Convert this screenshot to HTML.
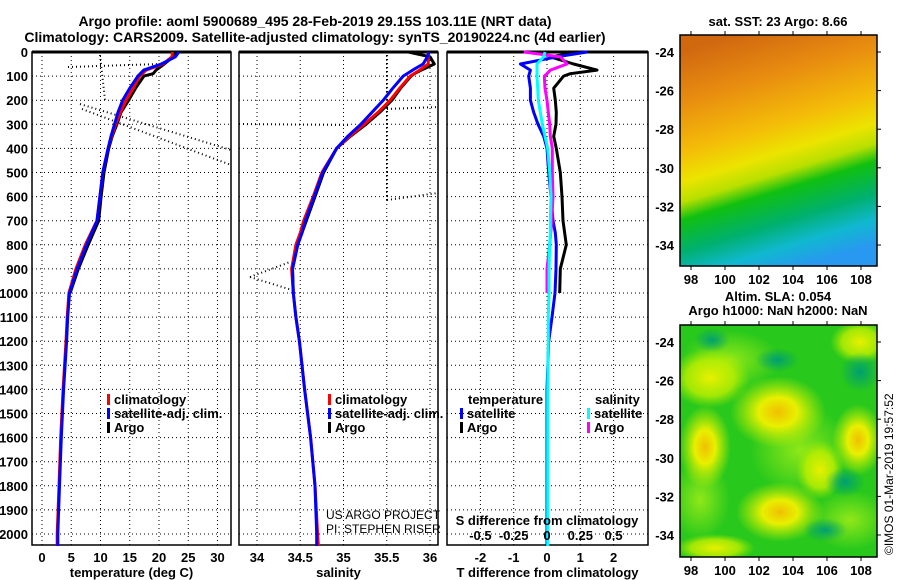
<!DOCTYPE html>
<html><head><meta charset="utf-8">
<style>
body{margin:0;background:#fff;}
svg{display:block;font-family:"Liberation Sans",sans-serif;font-weight:bold;}
text{font-size:13px;fill:#000;}
</style></head>
<body>
<svg id="fig" width="900" height="580" viewBox="0 0 900 580">
<defs>
<clipPath id="slaclip"><rect x="680" y="325" width="197" height="232"/></clipPath>
<linearGradient id="sstg" gradientUnits="userSpaceOnUse" x1="735" y1="35" x2="805" y2="266">
<stop offset="0" stop-color="#d06810"/>
<stop offset="0.2" stop-color="#e88c10"/>
<stop offset="0.4" stop-color="#f4bc08"/>
<stop offset="0.52" stop-color="#ece400"/>
<stop offset="0.6" stop-color="#b8e000"/>
<stop offset="0.67" stop-color="#10c010"/>
<stop offset="0.8" stop-color="#00b070"/>
<stop offset="0.9" stop-color="#10b8d0"/>
<stop offset="1" stop-color="#2898f0"/>
</linearGradient>
<radialGradient id="yb"><stop offset="0" stop-color="#f0c000"/><stop offset="0.4" stop-color="#e8f000"/><stop offset="1" stop-color="#c8f000" stop-opacity="0"/></radialGradient>
<radialGradient id="yb2"><stop offset="0" stop-color="#e8f000"/><stop offset="0.6" stop-color="#c0f000" stop-opacity="0.8"/><stop offset="1" stop-color="#a0e800" stop-opacity="0"/></radialGradient>
<radialGradient id="lg"><stop offset="0" stop-color="#90e818"/><stop offset="1" stop-color="#90e818" stop-opacity="0"/></radialGradient>
<radialGradient id="gb"><stop offset="0" stop-color="#00a070"/><stop offset="1" stop-color="#00a070" stop-opacity="0"/></radialGradient>
</defs>
<g>
<text x="315" y="26" text-anchor="middle" style="font-size:14px">Argo profile: aoml 5900689_495 28-Feb-2019 29.15S 103.11E (NRT data)</text>
<text x="315" y="42" text-anchor="middle" style="font-size:14px">Climatology: CARS2009. Satellite-adjusted climatology: synTS_20190224.nc (4d earlier)</text>
</g>
<g id="g1"></g>
<g id="g2"></g>
<g id="g3"></g>
<g id="maps">
<text x="778" y="26" text-anchor="middle">sat. SST: 23 Argo: 8.66</text>
<rect x="680" y="35" width="197" height="231" fill="url(#sstg)"/>
<text x="778" y="301" text-anchor="middle">Altim. SLA: 0.054</text>
<text x="778" y="315" text-anchor="middle">Argo h1000: NaN h2000: NaN</text>
<g clip-path="url(#slaclip)">
<rect x="680" y="325" width="197" height="232" fill="#28c81c"/>
<ellipse cx="730" cy="360" rx="50" ry="30" fill="url(#lg)"/>
<ellipse cx="800" cy="450" rx="50" ry="45" fill="url(#lg)"/>
<ellipse cx="850" cy="520" rx="40" ry="30" fill="url(#lg)"/>
<ellipse cx="700" cy="500" rx="30" ry="40" fill="url(#lg)"/>
<ellipse cx="710" cy="378" rx="40" ry="30" fill="url(#yb2)"/>
<ellipse cx="705" cy="447" rx="26" ry="42" fill="url(#yb)"/>
<ellipse cx="778" cy="412" rx="48" ry="36" fill="url(#yb)"/>
<ellipse cx="858" cy="440" rx="26" ry="36" fill="url(#yb)"/>
<ellipse cx="780" cy="512" rx="44" ry="30" fill="url(#yb)"/>
<ellipse cx="860" cy="342" rx="30" ry="22" fill="url(#yb2)"/>
<ellipse cx="820" cy="470" rx="24" ry="30" fill="url(#yb2)"/>
<ellipse cx="715" cy="548" rx="40" ry="14" fill="url(#yb2)"/>
<ellipse cx="712" cy="340" rx="18" ry="12" fill="url(#gb)"/>
<ellipse cx="777" cy="360" rx="22" ry="12" fill="url(#gb)"/>
<ellipse cx="860" cy="372" rx="20" ry="20" fill="url(#gb)"/>
<ellipse cx="845" cy="482" rx="20" ry="15" fill="url(#gb)"/>
<ellipse cx="825" cy="530" rx="22" ry="12" fill="url(#gb)"/>
</g>
<text transform="translate(893,555) rotate(-90)" style="font-size:12px;font-weight:normal">©IMOS 01-Mar-2019 19:57:52</text>
</g>
<g id="mapaxes"></g>
</svg>
<script>
const NS="http://www.w3.org/2000/svg";
const depthTicks=[0,100,200,300,400,500,600,700,800,900,1000,1100,1200,1300,1400,1500,1600,1700,1800,1900,2000];
const tempTicks=[0,5,10,15,20,25,30];
const salTicks=[34,34.5,35,35.5,36];
const salTickLabels=["34","34.5","35","35.5","36"];
const tdTicks=[-2,-1,0,1,2];
const sdTicks=[-0.5,-0.25,0,0.25,0.5];
const sdTickLabels=["-0.5","-0.25","0","0.25","0.5"];
const depths=[0,20,50,75,100,150,200,250,300,350,400,500,600,700,750,800,900,1000,1100,1200,1400,1600,1800,2000,2050];
const tempClim=[22.3,22.2,20.7,17.8,16.7,15.6,14.4,13.4,12.6,11.9,11.3,10.4,9.9,9.4,8.4,7.4,5.8,4.6,4.3,4.1,3.6,3.2,2.9,2.6,2.6];
const tempSat=[23.4,22.8,20.4,17.4,16.4,15.0,13.8,13.0,12.4,11.8,11.3,10.4,9.9,9.4,8.5,7.6,6.0,4.7,4.4,4.2,3.7,3.3,3.0,2.7,2.7];
const argoDepths=[0,20,50,75,90,100,150,200,250,300,350,400,500,600,700,800,900,1000];
const tempArgo=[22.8,22.4,20.9,19.5,19.0,17.4,16.0,14.8,13.5,12.8,12.0,11.4,10.6,10.1,9.7,7.9,6.2,4.8];
const salClim=[35.98,35.98,35.98,35.88,35.77,35.65,35.54,35.4,35.24,35.07,34.92,34.75,34.65,34.54,34.5,34.45,34.4,34.42,34.45,34.49,34.55,34.62,34.67,34.7,34.71];
const salSat=[35.99,35.97,35.92,35.8,35.69,35.57,35.46,35.33,35.2,35.05,34.92,34.76,34.66,34.56,34.52,34.47,34.41,34.42,34.45,34.49,34.55,34.62,34.67,34.69,34.69];
const salArgo=[35.75,36.0,36.05,35.9,35.82,35.78,35.66,35.56,35.42,35.26,35.08,34.92,34.77,34.67,34.57,34.47,34.41,34.42];
const tdSat=[1.2,0.3,-0.8,-0.5,-0.55,-0.5,-0.5,-0.4,-0.27,-0.1,0,0.05,0.12,0.18,0.25,0.28,0.27,0.24,0.15,0.05,0,0,0,0,0];
const tdArgo=[1.0,0.1,0.8,1.5,0.7,0.5,0.2,0.25,0.28,0.27,0.2,0.28,0.4,0.45,0.48,0.58,0.4,0.38];
const sdSat=[-0.015,-0.025,-0.075,-0.075,-0.075,-0.07,-0.065,-0.05,-0.035,-0.015,0.005,0.02,0.03,0.025,0.025,0.02,0.015,0.015,0.01,0.01,0.005,0.005,0.005,0.005,0.005];
const sdArgo=[-0.175,0.1,0.15,0.025,0.0,-0.02,-0.015,0.0,0.01,0.02,0.025,0.04,0.04,0.045,0.035,0.02,0.0,0.0];
const lonTicks=[98,100,102,104,106,108];
const latTicks=[-24,-26,-28,-30,-32,-34];

const Y=d=>52+d*0.241;
const XT=t=>42+5.85*t;
const XS=s=>257+86.5*(s-34);
const XTD=d=>547+33.3*d;
const XSD=d=>547+133.2*d;
const TOP=52,BOT=545;
function el(tag,attrs,parent){const e=document.createElementNS(NS,tag);for(const k in attrs)e.setAttribute(k,attrs[k]);parent.appendChild(e);return e;}
function txt(x,y,s,anchor,parent,size){const t=el('text',{x:x,y:y,'text-anchor':anchor||'middle'},parent);if(size)t.style.fontSize=size+'px';t.textContent=s;return t;}
function line(xs,ys,color,parent,name,w){
  const pts=xs.map((x,i)=>x.toFixed(1)+','+ys[i].toFixed(1)).join(' ');
  const p=el('polyline',{points:pts,fill:'none',stroke:color,'stroke-width':w||3,'stroke-linejoin':'round'},parent);
  
  
  return p;
}
function panel(g,x0,x1,xticks,xf,labels,xtitle){
  xticks.forEach(v=>{const l=el('line',{x1:xf(v),x2:xf(v),y1:TOP,y2:BOT,stroke:'#000','stroke-dasharray':'1,3'},g);
    
    });
  depthTicks.forEach(d=>{const l=el('line',{x1:x0,x2:x1,y1:Y(d),y2:Y(d),stroke:'#000','stroke-dasharray':'1,3'},g);
    
    });
  const r=el('rect',{x:x0,y:TOP,width:x1-x0,height:BOT-TOP,fill:'none',stroke:'#000','stroke-width':1.5},g);
  
  
  el('line',{x1:x0,x2:x1,y1:TOP,y2:TOP,stroke:'#000','stroke-width':3},g);
  if(labels){xticks.forEach((v,i)=>{const t=txt(xf(v),562,labels[i],'middle',g);
    
    });}
  if(xtitle){const t=txt((x0+x1)/2,577,xtitle,'middle',g);
    
    }
}
function legendEntry(g,x,y,color,label){
  const r=el('rect',{x:x,y:y-10,width:3,height:11,fill:color},g);
  
  
  const t=txt(x+7,y,label,'start',g);
  
  
}
function dotted(g,segs){segs.forEach(s=>{
 const l=el('line',{x1:s[0],y1:s[1],x2:s[2],y2:s[3],stroke:'#000','stroke-width':2,'stroke-dasharray':'1,3'},g);
 
 });}

const g1=document.getElementById('g1');
panel(g1,32,231,tempTicks,XT,tempTicks.map(String),'temperature (deg C)');
depthTicks.forEach(d=>{const t=txt(28,Y(d)+5,String(d),'end',g1);
  
  });
dotted(g1,[[68,67,160,64],[80,104,231,150],[82,109,231,165],[100,55,105,100]]);
line(argoDepths.map((d,i)=>XT(tempArgo[i])),argoDepths.map(Y),'#000',g1,'argo-temperature-line');
line(depths.map((d,i)=>XT(tempClim[i])),depths.map(Y),'#f00',g1,'climatology-temperature-line');
line(depths.map((d,i)=>XT(tempSat[i])),depths.map(Y),'#00f',g1,'satellite-temperature-line');
legendEntry(g1,107,404,'#f00','climatology');
legendEntry(g1,107,418,'#00f','satellite-adj. clim.');
legendEntry(g1,107,432,'#000','Argo');

const g2=document.getElementById('g2');
panel(g2,239,438,salTicks,XS,salTickLabels,'salinity');
dotted(g2,[[239,124,350,125],[387,55,387,200],[387,200,438,193],[387,109,438,107],[250,277,290,262],[250,277,292,290]]);
line(argoDepths.map((d,i)=>XS(salArgo[i])),argoDepths.map(Y),'#000',g2,'argo-salinity-line');
line(depths.map((d,i)=>XS(salClim[i])),depths.map(Y),'#f00',g2,'climatology-salinity-line');
line(depths.map((d,i)=>XS(salSat[i])),depths.map(Y),'#00f',g2,'satellite-salinity-line');
legendEntry(g2,328,404,'#f00','climatology');
legendEntry(g2,328,418,'#00f','satellite-adj. clim.');
legendEntry(g2,328,432,'#000','Argo');
const c1=txt(326,519,'US ARGO PROJECT','start',g2,12);
c1.style.fontWeight='normal';


const c2=txt(326,533,'PI: STEPHEN RISER','start',g2,12);
c2.style.fontWeight='normal';



const g3=document.getElementById('g3');
panel(g3,447,648,tdTicks,XTD,tdTicks.map(String),'T difference from climatology');
line(argoDepths.map((d,i)=>XTD(tdArgo[i])),argoDepths.map(Y),'#000',g3,'argo-temperature-diff-line');
line(depths.map((d,i)=>XTD(tdSat[i])),depths.map(Y),'#00f',g3,'satellite-temperature-diff-line');
line(argoDepths.map((d,i)=>XSD(sdArgo[i])),argoDepths.map(Y),'#f0f',g3,'argo-salinity-diff-line');
line(depths.map((d,i)=>XSD(sdSat[i])),depths.map(Y),'#0ff',g3,'satellite-salinity-diff-line');
const lt=txt(468,404,'temperature','start',g3);


const ls=txt(595,404,'salinity','start',g3);


legendEntry(g3,460,418,'#00f','satellite');
legendEntry(g3,460,432,'#000','Argo');
legendEntry(g3,587,418,'#0ff','satellite');
legendEntry(g3,587,432,'#f0f','Argo');
const st=txt(547,525,'S difference from climatology','middle',g3);


sdTicks.forEach((v,i)=>{const t=txt(XSD(v),540,sdTickLabels[i],'middle',g3);
  
  });

const ma=document.getElementById('mapaxes');
const LON=v=>691+17*(v-98);
function mapAxes(y0,y1,latY0){
  const r=el('rect',{x:680,y:y0,width:197,height:y1-y0,fill:'none',stroke:'#000','stroke-width':1.5},ma);
  
  
  lonTicks.forEach(v=>{
    el('line',{x1:LON(v),x2:LON(v),y1:y0,y2:y0-4,stroke:'#000'},ma);
    el('line',{x1:LON(v),x2:LON(v),y1:y1,y2:y1+4,stroke:'#000'},ma);
    const t=txt(LON(v),y1+18,String(v),'middle',ma);
    
    });
  latTicks.forEach(v=>{const yy=latY0+19.3*(-24-v);
    el('line',{x1:877,x2:881,y1:yy,y2:yy,stroke:'#000'},ma);
    const t=txt(674,yy+5,String(v),'end',ma);
    
    });
}
mapAxes(35,266,52);
mapAxes(325,557,342);
</script>
</body></html>
